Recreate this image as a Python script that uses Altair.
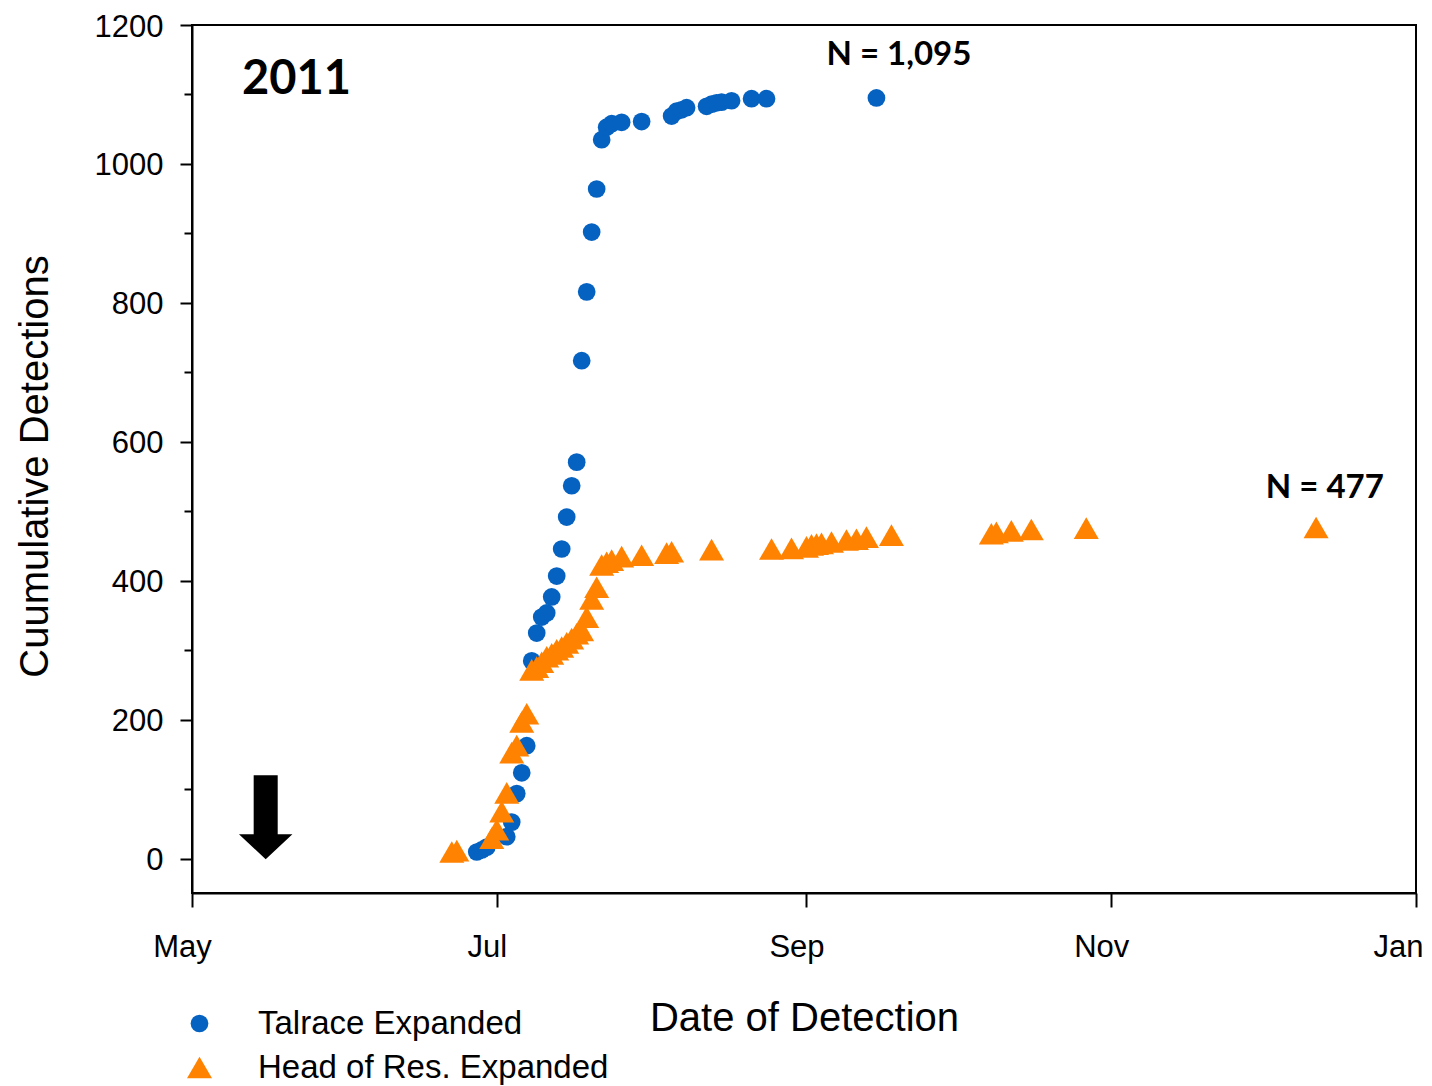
import altair as alt
import pandas as pd

# ---- data ----
series_names = ["Talrace Expanded", "Head of Res. Expanded"]

talrace_dates = [
    "2011-06-27", "2011-06-28", "2011-06-29", "2011-07-03", "2011-07-04", "2011-07-05",
    "2011-07-06", "2011-07-07", "2011-07-08", "2011-07-09", "2011-07-10", "2011-07-11",
    "2011-07-12", "2011-07-13", "2011-07-14", "2011-07-15", "2011-07-16", "2011-07-17",
    "2011-07-18", "2011-07-19", "2011-07-20", "2011-07-21", "2011-07-22", "2011-07-23",
    "2011-07-24", "2011-07-26", "2011-07-30", "2011-08-05", "2011-08-06", "2011-08-07",
    "2011-08-08", "2011-08-12", "2011-08-13", "2011-08-14", "2011-08-15", "2011-08-17",
    "2011-08-21", "2011-08-24", "2011-09-15",
]
talrace_values = [
    10, 13, 17, 32, 53, 94,
    124, 163, 285, 325, 348, 354,
    377, 407, 446, 492, 537, 571,
    717, 816, 902, 964, 1035, 1053,
    1058, 1060, 1061, 1069, 1076, 1078,
    1081, 1083, 1086, 1088, 1089, 1091,
    1094, 1094, 1095,
]

head_dates = [
    "2011-06-22", "2011-06-23", "2011-06-30", "2011-07-01", "2011-07-02", "2011-07-03",
    "2011-07-04", "2011-07-05", "2011-07-06", "2011-07-07", "2011-07-08", "2011-07-09",
    "2011-07-10", "2011-07-11", "2011-07-12", "2011-07-13", "2011-07-14", "2011-07-15",
    "2011-07-16", "2011-07-17", "2011-07-18", "2011-07-19", "2011-07-20", "2011-07-21",
    "2011-07-22", "2011-07-23", "2011-07-24", "2011-07-26", "2011-07-30", "2011-08-04",
    "2011-08-05", "2011-08-13", "2011-08-25", "2011-08-29", "2011-09-01", "2011-09-02",
    "2011-09-03", "2011-09-04", "2011-09-06", "2011-09-09", "2011-09-11", "2011-09-13",
    "2011-09-18", "2011-10-08", "2011-10-09", "2011-10-12", "2011-10-16", "2011-10-27",
    "2011-12-12",
]
head_values = [
    10, 12, 30, 42, 68, 95,
    153, 163, 197, 209, 272, 276,
    283, 291, 295, 301, 305, 311,
    317, 324, 329, 348, 374, 391,
    423, 427, 430, 435, 437, 440,
    442, 445, 446, 447, 449, 452,
    453, 454, 456, 459, 460, 463,
    466, 468, 470, 472, 474, 476,
    477,
]

year_label = ["2011"]
year_label_date = ["2011-05-11"]
year_label_value = [1121]

n_labels = ["N = 1,095", "N = 477"]
n_label_dates = ["2011-09-19T12:00:00Z", "2011-12-13T18:00:00Z"]
n_label_values = [1157, 534]

arrow_date = ["2011-05-15T18:00:00Z"]
arrow_value = [60]

y_tick_values = list(range(0, 1201, 100))

colors = ["#0562C1", "#FF8200"]
shapes = ["circle", "triangle-up"]
sizes = [314, 625]

# ---- tables ----
points_df = pd.DataFrame({
    "date": talrace_dates + head_dates,
    "value": talrace_values + head_values,
    "series": [series_names[0]] * len(talrace_dates) + [series_names[1]] * len(head_dates),
})
year_df = pd.DataFrame({"date": year_label_date, "value": year_label_value, "label": year_label})
n_df = pd.DataFrame({"date": n_label_dates, "value": n_label_values, "label": n_labels})
arrow_df = pd.DataFrame({"date": arrow_date, "value": arrow_value})

FONT = "Liberation Sans, Arial, sans-serif"
BOLD_FONT = "Lato, Liberation Sans, sans-serif"

x_scale = alt.Scale(
    type="utc",
    domain=[alt.DateTime(year=2011, month=5, date=1, utc=True),
            alt.DateTime(year=2012, month=1, date=1, utc=True)],
)
y_scale = alt.Scale(domain=[-49, 1200], nice=False, zero=False)

x_axis = alt.Axis(
    values=[alt.DateTime(year=2011, month=m, date=1, utc=True) for m in (5, 7, 9, 11)]
    + [alt.DateTime(year=2012, month=1, date=1, utc=True)],
    format="%b",
    title="Date of Detection",
    tickSize=14,
    labelPadding=25,
    labelOffset={"condition": {"test": "utcmonth(datum.value) === 0", "value": -18}, "value": -10},
    labelFlush=False,
    labelOverlap=False,
    titleBaseline="alphabetic",
    titleY=137,
    grid=False,
)
y_axis = alt.Axis(
    values=y_tick_values,
    labelExpr="datum.value % 200 === 0 ? datum.label : ''",
    tickSize={"condition": {"test": "datum.value % 200 !== 0", "value": 8}, "value": 12},
    labelPadding=17,
    labelOffset=2,
    labelFlush=False,
    labelOverlap=False,
    title="Cuumulative Detections",
    titleBaseline="alphabetic",
    titleAngle=270,
    titleX=-145,
    titleY=441,
    titleAlign="center",
    grid=False,
    format="d",
)

legend = alt.Legend(
    title=None,
    orient="none",
    legendX=-9,
    legendY=982,
    labelFont=FONT,
    labelFontSize=33,
    labelColor="black",
    labelOffset=42,
    rowPadding=10,
    padding=0,
    labelLimit=0,
    symbolOpacity=1,
    symbolStrokeWidth=0,
)

points = alt.Chart(points_df).mark_point(filled=True, opacity=1, strokeWidth=0).encode(
    x=alt.X("date:T", scale=x_scale, axis=x_axis),
    y=alt.Y("value:Q", scale=y_scale, axis=y_axis),
    color=alt.Color("series:N", scale=alt.Scale(domain=series_names, range=colors), legend=legend),
    shape=alt.Shape("series:N", scale=alt.Scale(domain=series_names, range=shapes), legend=legend),
    size=alt.Size("series:N", scale=alt.Scale(domain=series_names, range=sizes), legend=legend),
)

year_text = alt.Chart(year_df).mark_text(
    font=BOLD_FONT, fontWeight="bold", fontSize=47, align="left", baseline="middle", color="black"
).encode(x="date:T", y="value:Q", text="label:N")

n_text = alt.Chart(n_df).mark_text(
    font=BOLD_FONT, fontWeight="bold", fontSize=33, align="center", baseline="middle", color="black"
).encode(x="date:T", y="value:Q", text="label:N")

arrow_path = "M-0.286,-1L0.286,-1L0.286,0.405L0.636,0.405L0,1L-0.636,0.405L-0.286,0.405Z"
arrow = alt.Chart(arrow_df).mark_point(
    shape=arrow_path, filled=True, size=7056, color="black", opacity=1, strokeWidth=0
).encode(x="date:T", y="value:Q")

chart = alt.layer(points, year_text, n_text, arrow).properties(
    width=1224,
    height=868,
    autosize=alt.AutoSizeParams(type="none"),
    padding={"left": 184, "top": 17, "right": 8, "bottom": 193},
    background="white",
).configure_view(
    stroke="black", strokeWidth=2
).configure_axis(
    domainColor="black", domainWidth=2, tickColor="black", tickWidth=2,
    labelColor="black", labelFont=FONT, labelFontSize=31,
    titleFont=FONT, titleFontSize=40, titleFontWeight="normal", titleColor="black",
)

chart.save("out.html", embed_options={"renderer": "svg", "actions": False})
